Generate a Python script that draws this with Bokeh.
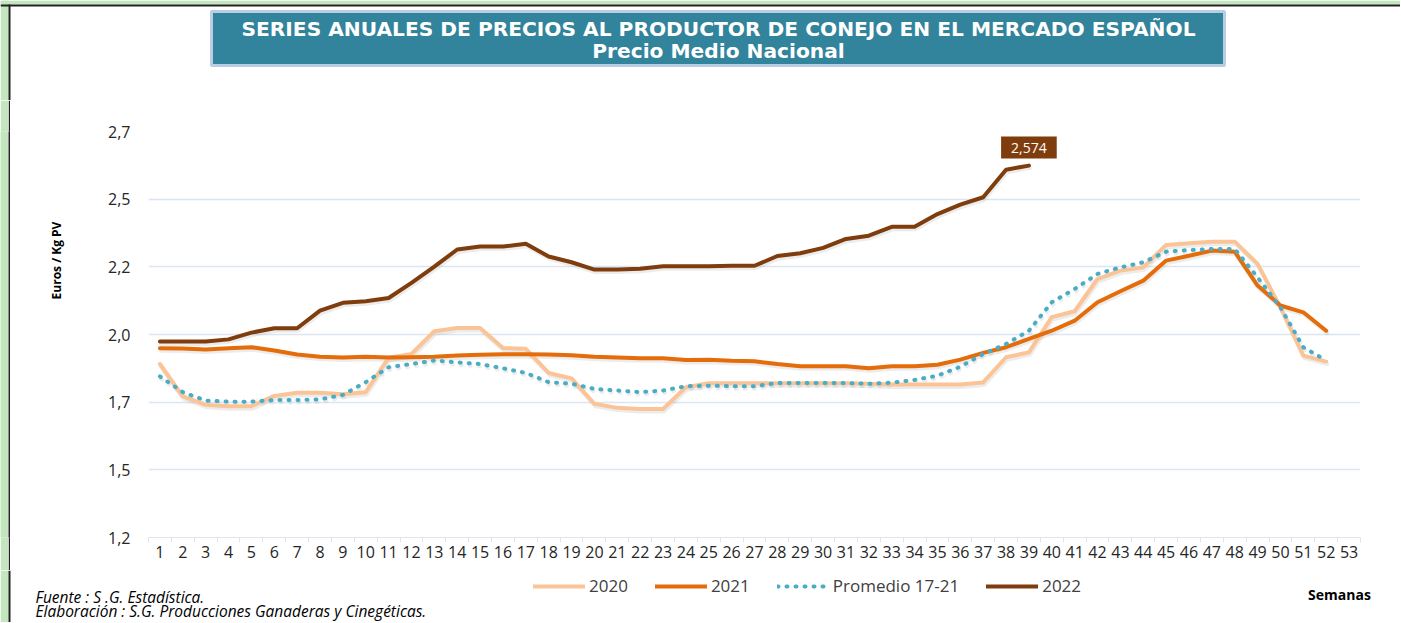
from math import pi
from bokeh.plotting import figure
from bokeh.layouts import column, row
from bokeh.models import Range1d, FixedTicker, Label, Legend, LegendItem
from bokeh.embed import file_html
from bokeh.resources import INLINE

# ---------------- data ----------------
weeks = list(range(1, 54))

s2020 = [1.841, 1.721, 1.690, 1.685, 1.685, 1.723, 1.735, 1.735, 1.729, 1.737,
         1.864, 1.878, 1.962, 1.974, 1.974, 1.900, 1.897, 1.808, 1.788, 1.694,
         1.679, 1.675, 1.675, 1.755, 1.770, 1.770, 1.770, 1.770, 1.770, 1.770,
         1.770, 1.768, 1.765, 1.765, 1.765, 1.765, 1.773, 1.866, 1.884, 2.014,
         2.036, 2.155, 2.186, 2.198, 2.281, 2.287, 2.293, 2.293, 2.211, 2.050,
         1.872, 1.850]

s2021 = [1.899, 1.898, 1.895, 1.899, 1.903, 1.891, 1.876, 1.868, 1.865, 1.868,
         1.865, 1.866, 1.868, 1.872, 1.875, 1.877, 1.877, 1.876, 1.873, 1.868,
         1.865, 1.862, 1.862, 1.856, 1.857, 1.853, 1.851, 1.841, 1.833, 1.833,
         1.833, 1.825, 1.833, 1.833, 1.838, 1.857, 1.882, 1.903, 1.934, 1.964,
         2.001, 2.069, 2.110, 2.149, 2.223, 2.241, 2.260, 2.256, 2.131, 2.057,
         2.032, 1.964]

promedio = [1.795, 1.737, 1.706, 1.702, 1.702, 1.708, 1.708, 1.710, 1.727, 1.774,
            1.829, 1.841, 1.854, 1.847, 1.841, 1.825, 1.808, 1.774, 1.768, 1.749,
            1.743, 1.737, 1.743, 1.759, 1.761, 1.759, 1.759, 1.771, 1.771, 1.771,
            1.771, 1.768, 1.772, 1.782, 1.798, 1.831, 1.878, 1.915, 1.964, 2.069,
            2.118, 2.174, 2.198, 2.217, 2.256, 2.262, 2.266, 2.266, 2.161, 2.050,
            1.903, 1.854]

s2022 = [1.924, 1.924, 1.924, 1.932, 1.957, 1.973, 1.973, 2.038, 2.067, 2.073,
         2.085, 2.141, 2.201, 2.264, 2.275, 2.275, 2.285, 2.238, 2.217, 2.190,
         2.190, 2.193, 2.202, 2.202, 2.202, 2.204, 2.204, 2.240, 2.250, 2.270,
         2.303, 2.315, 2.348, 2.348, 2.395, 2.430, 2.457, 2.559, 2.574]

series_names = ["2020", "2021", "Promedio 17-21", "2022"]

ytick_vals = [1.2, 1.45, 1.7, 1.95, 2.2, 2.45, 2.7]
ytick_labels = ["1,2", "1,5", "1,7", "2,0", "2,2", "2,5", "2,7"]

last_label = "2,574"

title_line1 = "SERIES ANUALES DE PRECIOS AL PRODUCTOR DE CONEJO EN EL MERCADO ESPAÑOL"
title_line2 = "Precio Medio Nacional"
y_title = "Euros / Kg PV"
x_title = "Semanas"
foot1 = "Fuente :  S .G. Estadística."
foot2 = "Elaboración : S.G. Producciones Ganaderas y Cinegéticas."

# ---------------- styles ----------------
C2020 = "#FBC497"
C2021 = "#E46C0A"
CPROM = "#4BACC6"
C2022 = "#7F3C0C"
GRID = "#DCE5F1"
GREEN = "#C4E6BF"
EDGE = "#222222"
TEAL = "#31849B"
FONT = "Open Sans"
TFONT = "DejaVu Sans"

W = 1400
TOP_H = 100          # page rows 0..100
MID_H = 470          # page rows 100..570
BOT_H = 52           # page rows 570..622
LEFT_W = 100

series_styles = [
    dict(line_color=C2020, line_width=4, line_join="round", line_cap="round"),
    dict(line_color=C2021, line_width=4, line_join="round", line_cap="round"),
    dict(line_color=CPROM, line_width=4, line_dash="1 8", line_cap="round", line_join="round"),
    dict(line_color=C2022, line_width=4, line_join="round", line_cap="round"),
]


def canvas_fig(w, h, x0, y0):
    """figure whose frame is the whole canvas, data units = page pixels (y down)"""
    f = figure(width=w, height=h, x_range=Range1d(x0, x0 + w), y_range=Range1d(y0 + h, y0),
               x_axis_type=None, y_axis_type=None, output_backend="svg",
               toolbar_location=None, min_border=0)
    f.outline_line_color = None
    f.background_fill_color = "white"
    f.border_fill_color = "white"
    return f


def strip_fig(w, h, color):
    f = figure(width=w, height=h, x_axis_type=None, y_axis_type=None,
               output_backend="svg", toolbar_location=None, min_border=0)
    f.outline_line_color = None
    f.background_fill_color = color
    f.border_fill_color = color
    return f


# ---------------- top band: title box ----------------
top = canvas_fig(W, TOP_H, 0, 0)
top.quad(left=[0], right=[W], top=[0], bottom=[4], fill_color=GREEN, line_color=None)
top.quad(left=[0], right=[8], top=[0], bottom=[TOP_H], fill_color=GREEN, line_color=None)
top.quad(left=[0], right=[W], top=[4], bottom=[6], fill_color=EDGE, line_color=None)
top.quad(left=[8], right=[10], top=[4], bottom=[TOP_H], fill_color=EDGE, line_color=None)
top.quad(left=[211], right=[1224], top=[11], bottom=[65], fill_color=TEAL,
         line_color="#B9CDE5", line_width=3)
for txt, yy in [(title_line1, 28), (title_line2, 50)]:
    top.add_layout(Label(x=718, y=yy, text=txt, text_align="center", text_baseline="middle",
                         text_font=TFONT, text_font_style="bold", text_font_size="20.2px",
                         text_color="white"))

# ---------------- left band: strips + y title ----------------
g_strip = strip_fig(8, MID_H, GREEN)
e_strip = strip_fig(2, MID_H, EDGE)
ytf = figure(width=LEFT_W - 10, height=MID_H, x_range=Range1d(10, LEFT_W), y_range=Range1d(537, 131),
             x_axis_type=None, y_axis_type=None, output_backend="svg", toolbar_location=None,
             min_border_left=0, min_border_right=0, min_border_top=31, min_border_bottom=33)
ytf.outline_line_color = None
ytf.background_fill_color = "white"
ytf.border_fill_color = "white"
ytf.add_layout(Label(x=56, y=260, text=y_title, angle=pi / 2, text_align="center",
                     text_baseline="middle", text_font=FONT, text_font_style="bold",
                     text_font_size="12px", text_color="black"))

# ---------------- main chart ----------------
p = figure(width=W - LEFT_W, height=MID_H,
           x_range=Range1d(0.5, 53.5), y_range=Range1d(1.2, 2.7),
           output_backend="svg", toolbar_location=None,
           min_border_left=48, min_border_right=W - 1360,
           min_border_top=31, min_border_bottom=33)
p.outline_line_color = None
p.background_fill_color = "white"
p.border_fill_color = "white"

xa = p.xaxis[0]
xa.ticker = FixedTicker(ticks=weeks, minor_ticks=[w - 0.5 for w in weeks] + [53.5])
xa.axis_line_color = GRID
xa.major_tick_line_color = None
xa.major_tick_out = 0
xa.major_tick_in = 0
xa.minor_tick_line_color = GRID
xa.minor_tick_out = 5
xa.minor_tick_in = 0
xa.major_label_standoff = 3
xa.major_label_text_font = FONT
xa.major_label_text_font_size = "16px"
xa.major_label_text_color = "#262626"

ya = p.yaxis[0]
ya.ticker = FixedTicker(ticks=ytick_vals)
ya.major_label_overrides = {v: l for v, l in zip(ytick_vals, ytick_labels)}
ya.axis_line_color = None
ya.major_tick_line_color = None
ya.minor_tick_line_color = None
ya.major_tick_out = 0
ya.major_tick_in = 0
ya.major_label_standoff = 18
ya.major_label_text_font = FONT
ya.major_label_text_font_size = "16px"
ya.major_label_text_color = "#262626"

p.xgrid.grid_line_color = None
p.ygrid.ticker = FixedTicker(ticks=ytick_vals)
p.ygrid.grid_line_color = GRID
p.ygrid.grid_line_width = 1.5

# soft drop shadow (same data, ranges shifted by ~1px right / 2.5px down)
px_per_x = (1360 - 148) / 53.0
px_per_y = (537 - 131) / 1.5
p.extra_x_ranges = {"shadow": Range1d(0.5 - 1.0 / px_per_x, 53.5 - 1.0 / px_per_x)}
p.extra_y_ranges = {"shadow": Range1d(1.2 + 2.5 / px_per_y, 2.7 + 2.5 / px_per_y)}
for vals, st in zip([s2020, s2021, promedio, s2022], series_styles):
    sh = dict(st)
    sh["line_color"] = "#7F7F7F"
    sh["line_alpha"] = 0.15
    p.line(weeks[:len(vals)], vals, x_range_name="shadow", y_range_name="shadow", **sh)

for vals, st in zip([s2020, s2021, promedio, s2022], series_styles):
    p.line(weeks[:len(vals)], vals, **st)

p.add_layout(Label(x=weeks[len(s2022) - 1], y=s2022[-1], y_offset=18, text=last_label,
                   text_align="center", text_baseline="middle",
                   text_font=FONT, text_font_size="14px", text_color="white",
                   background_fill_color=C2022, padding=(10, 6)))

# ---------------- bottom band: legend, notes ----------------
bot = canvas_fig(W, BOT_H, 0, TOP_H + MID_H)
bot.quad(left=[0], right=[8], top=[TOP_H + MID_H], bottom=[TOP_H + MID_H + BOT_H],
         fill_color=GREEN, line_color=None)
bot.quad(left=[8], right=[10], top=[TOP_H + MID_H], bottom=[TOP_H + MID_H + BOT_H],
         fill_color=EDGE, line_color=None)
nan = float("nan")
legend_renderers = [bot.line(x=[nan], y=[nan], **st) for st in series_styles]
legend = Legend(items=[LegendItem(label=n, renderers=[r])
                       for n, r in zip(series_names, legend_renderers)],
                orientation="horizontal", location=(533, TOP_H + MID_H + BOT_H - 597),
                glyph_width=52, glyph_height=20, label_height=20,
                label_standoff=4, spacing=27, padding=0, margin=0,
                border_line_color=None, background_fill_alpha=0,
                label_text_font=FONT, label_text_font_size="17px",
                label_text_color="#404040")
bot.add_layout(legend)
bot.add_layout(Label(x=1339, y=594, text=x_title, text_align="center", text_baseline="middle",
                     text_font=FONT, text_font_style="bold", text_font_size="14px",
                     text_color="black"))
for txt, yy in [(foot1, 596), (foot2, 610)]:
    bot.add_layout(Label(x=35, y=yy, text=txt, text_align="left", text_baseline="middle",
                         text_font=FONT, text_font_style="italic", text_font_size="15.5px",
                         text_color="black"))

layout = column(top, row(g_strip, e_strip, ytf, p), bot)
open("out.html", "w").write(file_html(layout, INLINE))
